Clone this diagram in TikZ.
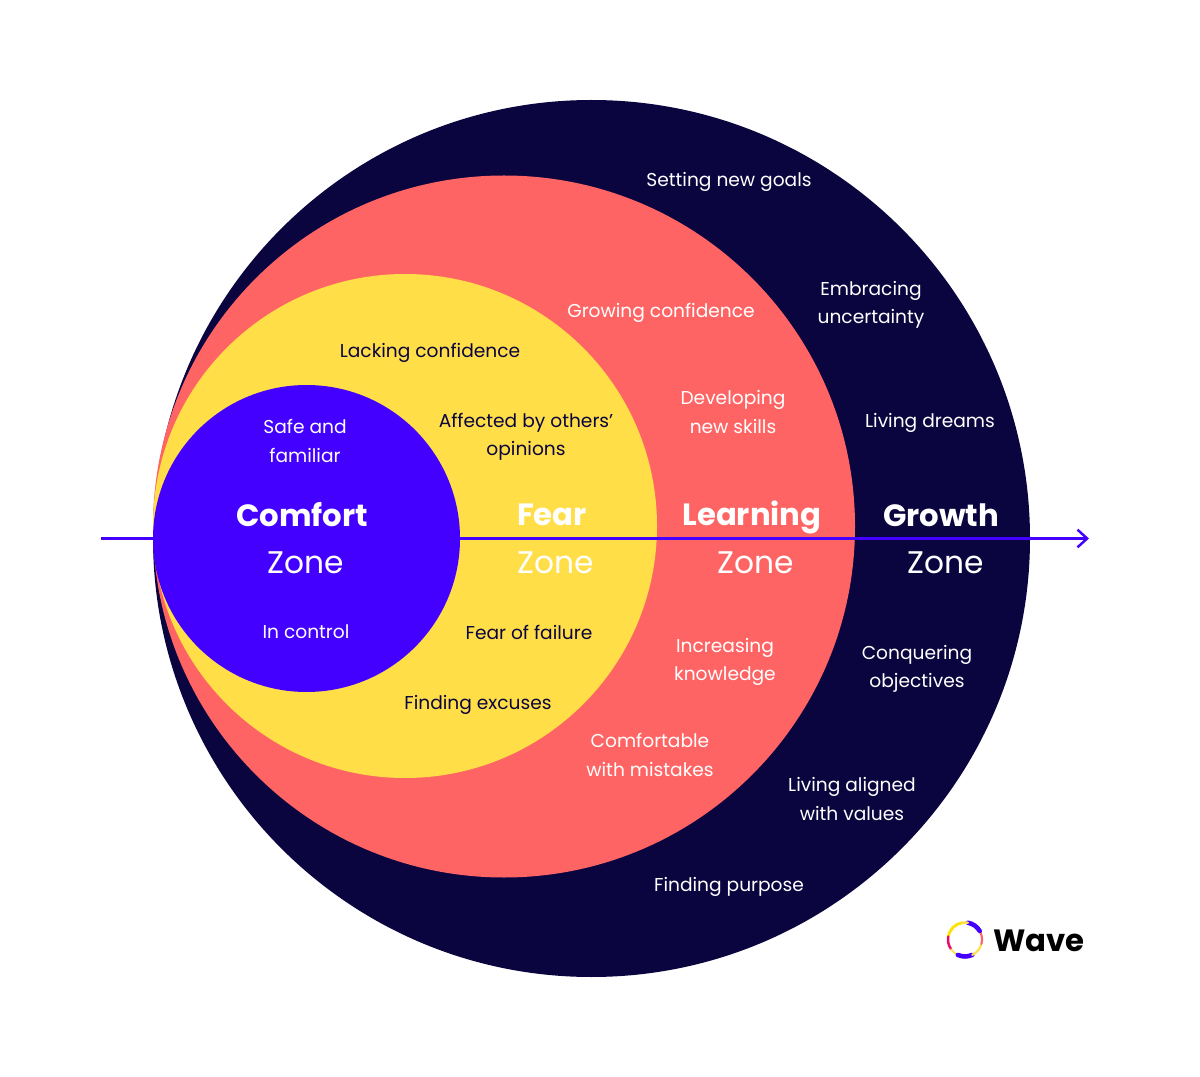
\documentclass[tikz,border=0pt]{standalone}
\usepackage{fontspec}
\setmainfont{Poppins}
\usetikzlibrary{arrows.meta}
\definecolor{navyzone}{HTML}{0B053F}
\definecolor{redzone}{HTML}{FF6464}
\definecolor{yellowzone}{HTML}{FFDE47}
\definecolor{bluezone}{HTML}{4400FF}
\tikzset{
	note/.style={font=\fontsize{10.6pt}{16pt}\selectfont,align=center,text=#1},
	note/.default=white,
	title/.style={font=\fontsize{17.5pt}{20pt}\selectfont\bfseries,text=white},
	zone/.style={font=\fontsize{17.8pt}{20pt}\selectfont,text=white},
	logoarc/.style={line width=#1,line cap=round}
}
\begin{document}
\begin{tikzpicture}[x=0.02cm,y=-0.02cm,line join=round]
	\useasboundingbox (0,0) rectangle (1200,1077);
	\path
	(101,538.5) coordinate (S)
	(1089,538.5) coordinate (T)
	(965,939.5) coordinate (L)
	;
	\fill[navyzone] (591.5,538.5) circle (438.5*0.02cm);
	\fill[redzone] (504,526.5) circle (351*0.02cm);
	\fill[yellowzone] (405,526) circle (252*0.02cm);
	\draw[bluezone,line width=1.6pt,-{Straight Barb[length=5.5pt,width=10pt,line width=1.4pt]}] (S)--(T);
	\fill[bluezone] (306.5,538.5) circle (153.5*0.02cm);
	% outer zone
	\foreach \x/\y/\n/\t in {729/182/goals/Setting new goals,871/305/uncertain/{Embracing\\uncertainty},930/423/dreams/Living dreams,917/669/objectives/{Conquering\\objectives},852/799/values/{Living aligned\\with values},729/887/purpose/Finding purpose,661/313/growing/Growing confidence,733/412/skills/{Developing\\new skills},725/662/knowledge/{Increasing\\knowledge},650/755/mistakes/{Comfortable\\with mistakes},305/441/safe/{Safe and\\familiar},306/632/control/In control}
	\node[note] (\n) at (\x,\y) {\t};
	% yellow zone
	\foreach \x/\y/\n/\t in {430/353/lacking/Lacking confidence,526/437/others/{Affected by others’\\opinions},529/632/failure/Fear of failure,478/705/excuses/Finding excuses}
	\node[note=navyzone] (\n) at (\x,\y) {\t};
	% zone names
	\foreach \x/\y/\z/\n in {302/515/306/Comfort,552/515/556/Fear,752/517/756/Learning,941/515/946/Growth}{
	\node[title] (\n) at (\x,\y) {\n};
	\node[zone] (\n Zone) at (\z,562.5) {Zone};
	}
	% logo
	\foreach \a/\b/\c/\w in {100/170/yellow!85!orange/1.6pt,170/215/magenta!70!red/1.4pt,215/245/yellowzone/1pt,245/295/bluezone/2.6pt,295/345/yellowzone/1.2pt,345/385/redzone/1.2pt,385/420/yellowzone/1pt,30/80/bluezone/2.6pt,80/100/yellowzone/1.4pt}
	\draw[\c,logoarc=\w] ([shift={(\a:17*0.02cm)}]L) arc[start angle=\a,end angle=\b,radius=17*0.02cm];
	\node[font=\fontsize{17.5pt}{20pt}\selectfont\bfseries,text=black] (wave) at (1039,941) {Wave};
\end{tikzpicture}
\end{document}
